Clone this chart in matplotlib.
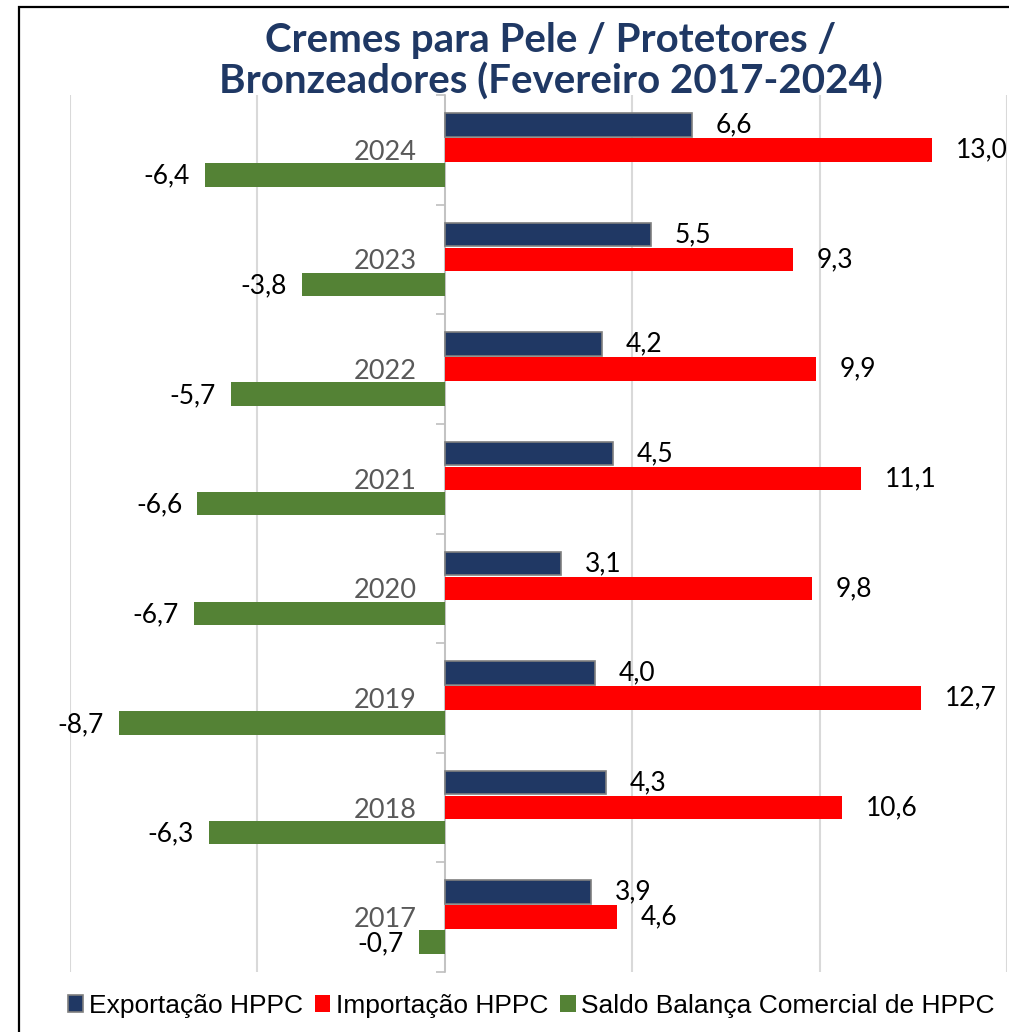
import matplotlib
matplotlib.use("Agg")
import matplotlib.pyplot as plt
from matplotlib.patches import Rectangle
import numpy as np

years = ["2017", "2018", "2019", "2020", "2021", "2022", "2023", "2024"]
exportacao = [3.9, 4.3, 4.0, 3.1, 4.5, 4.2, 5.5, 6.6]
importacao = [4.6, 10.6, 12.7, 9.8, 11.1, 9.9, 9.3, 13.0]
saldo = [-0.7, -6.3, -8.7, -6.7, -6.6, -5.7, -3.8, -6.4]
series_names = ["Exportação HPPC", "Importação HPPC", "Saldo Balança Comercial de HPPC"]
title = "Cremes para Pele / Protetores /\nBronzeadores (Fevereiro 2017-2024)"

W, H = 1009, 1032
fig = plt.figure(figsize=(W / 100, H / 100), dpi=100)
fig.patch.set_facecolor("white")

ax = fig.add_axes([70 / W, (H - 972) / H, (1007 - 70) / W, (972 - 95) / H])

y = np.arange(len(years))
bh = 0.215
off = 0.228
c_exp, c_imp, c_sal = "#203864", "#FF0000", "#548235"

b1 = ax.barh(y + off, exportacao, height=bh, color=c_exp, edgecolor="#7F7F7F", linewidth=1.2, label=series_names[0], zorder=3)
b2 = ax.barh(y, importacao, height=bh, color=c_imp, label=series_names[1], zorder=3)
b3 = ax.barh(y - off, saldo, height=bh, color=c_sal, label=series_names[2], zorder=3)

lab_font = dict(family=["Lato", "DejaVu Sans"], fontsize=19, color="black")

def fmt(v):
    return f"{v:.1f}".replace(".", ",")

for bars, vals in ((b1, exportacao), (b2, importacao), (b3, saldo)):
    for rect, v in zip(bars, vals):
        yc = rect.get_y() + rect.get_height() / 2
        if v >= 0:
            ax.annotate(fmt(v), (v, yc), xytext=(17, 0), textcoords="offset points",
                        ha="left", va="center", annotation_clip=False, **lab_font)
        else:
            ax.annotate(fmt(v), (v, yc), xytext=(-11, -1), textcoords="offset points",
                        ha="right", va="center", annotation_clip=False, **lab_font)

ax.set_xlim(-10, 15)
ax.set_ylim(-0.5, len(years) - 0.5)
ax.set_xticks([-10, -5, 0, 5, 10, 15])
ax.xaxis.grid(True, color="#D9D9D9", linewidth=1.5, zorder=0)
ax.set_axisbelow(True)
ax.tick_params(axis="x", length=0, labelbottom=False)

for s in ("top", "right", "bottom"):
    ax.spines[s].set_visible(False)
ax.spines["left"].set_position(("data", 0))
ax.spines["left"].set_color("#BFBFBF")
ax.spines["left"].set_linewidth(1.2)

ax.set_yticks(y)
ax.set_yticklabels(years, family=["Lato", "DejaVu Sans"], fontsize=19.5, color="#595959")
ax.set_yticks(np.arange(-0.5, len(years), 1.0), minor=True)
ax.tick_params(axis="y", which="major", length=0, pad=20)
ax.tick_params(axis="y", which="minor", length=6.5, width=1.2, color="#BFBFBF", direction="out")

fig.text(551 / W, 1 - 61 / H, title, ha="center", va="center", fontsize=29,
         fontweight="bold", color="#1F3864", family=["Lato", "DejaVu Sans"], linespacing=1.12)

leg = fig.legend(handles=[b1, b2, b3], labels=series_names, loc="center",
                 bbox_to_anchor=(531 / W, 1 - 1006 / H), ncol=3, frameon=False,
                 prop=dict(family=["Liberation Sans", "DejaVu Sans"], size=19),
                 handlelength=0.6, handleheight=0.6, handletextpad=0.2, columnspacing=0.45)

fig.add_artist(Rectangle((19 / W, -0.1), 1.2, 1 - 7 / H + 0.1, transform=fig.transFigure,
                         fill=False, edgecolor="black", linewidth=1.6, clip_on=False))

fig.savefig("out.png", dpi=100)
